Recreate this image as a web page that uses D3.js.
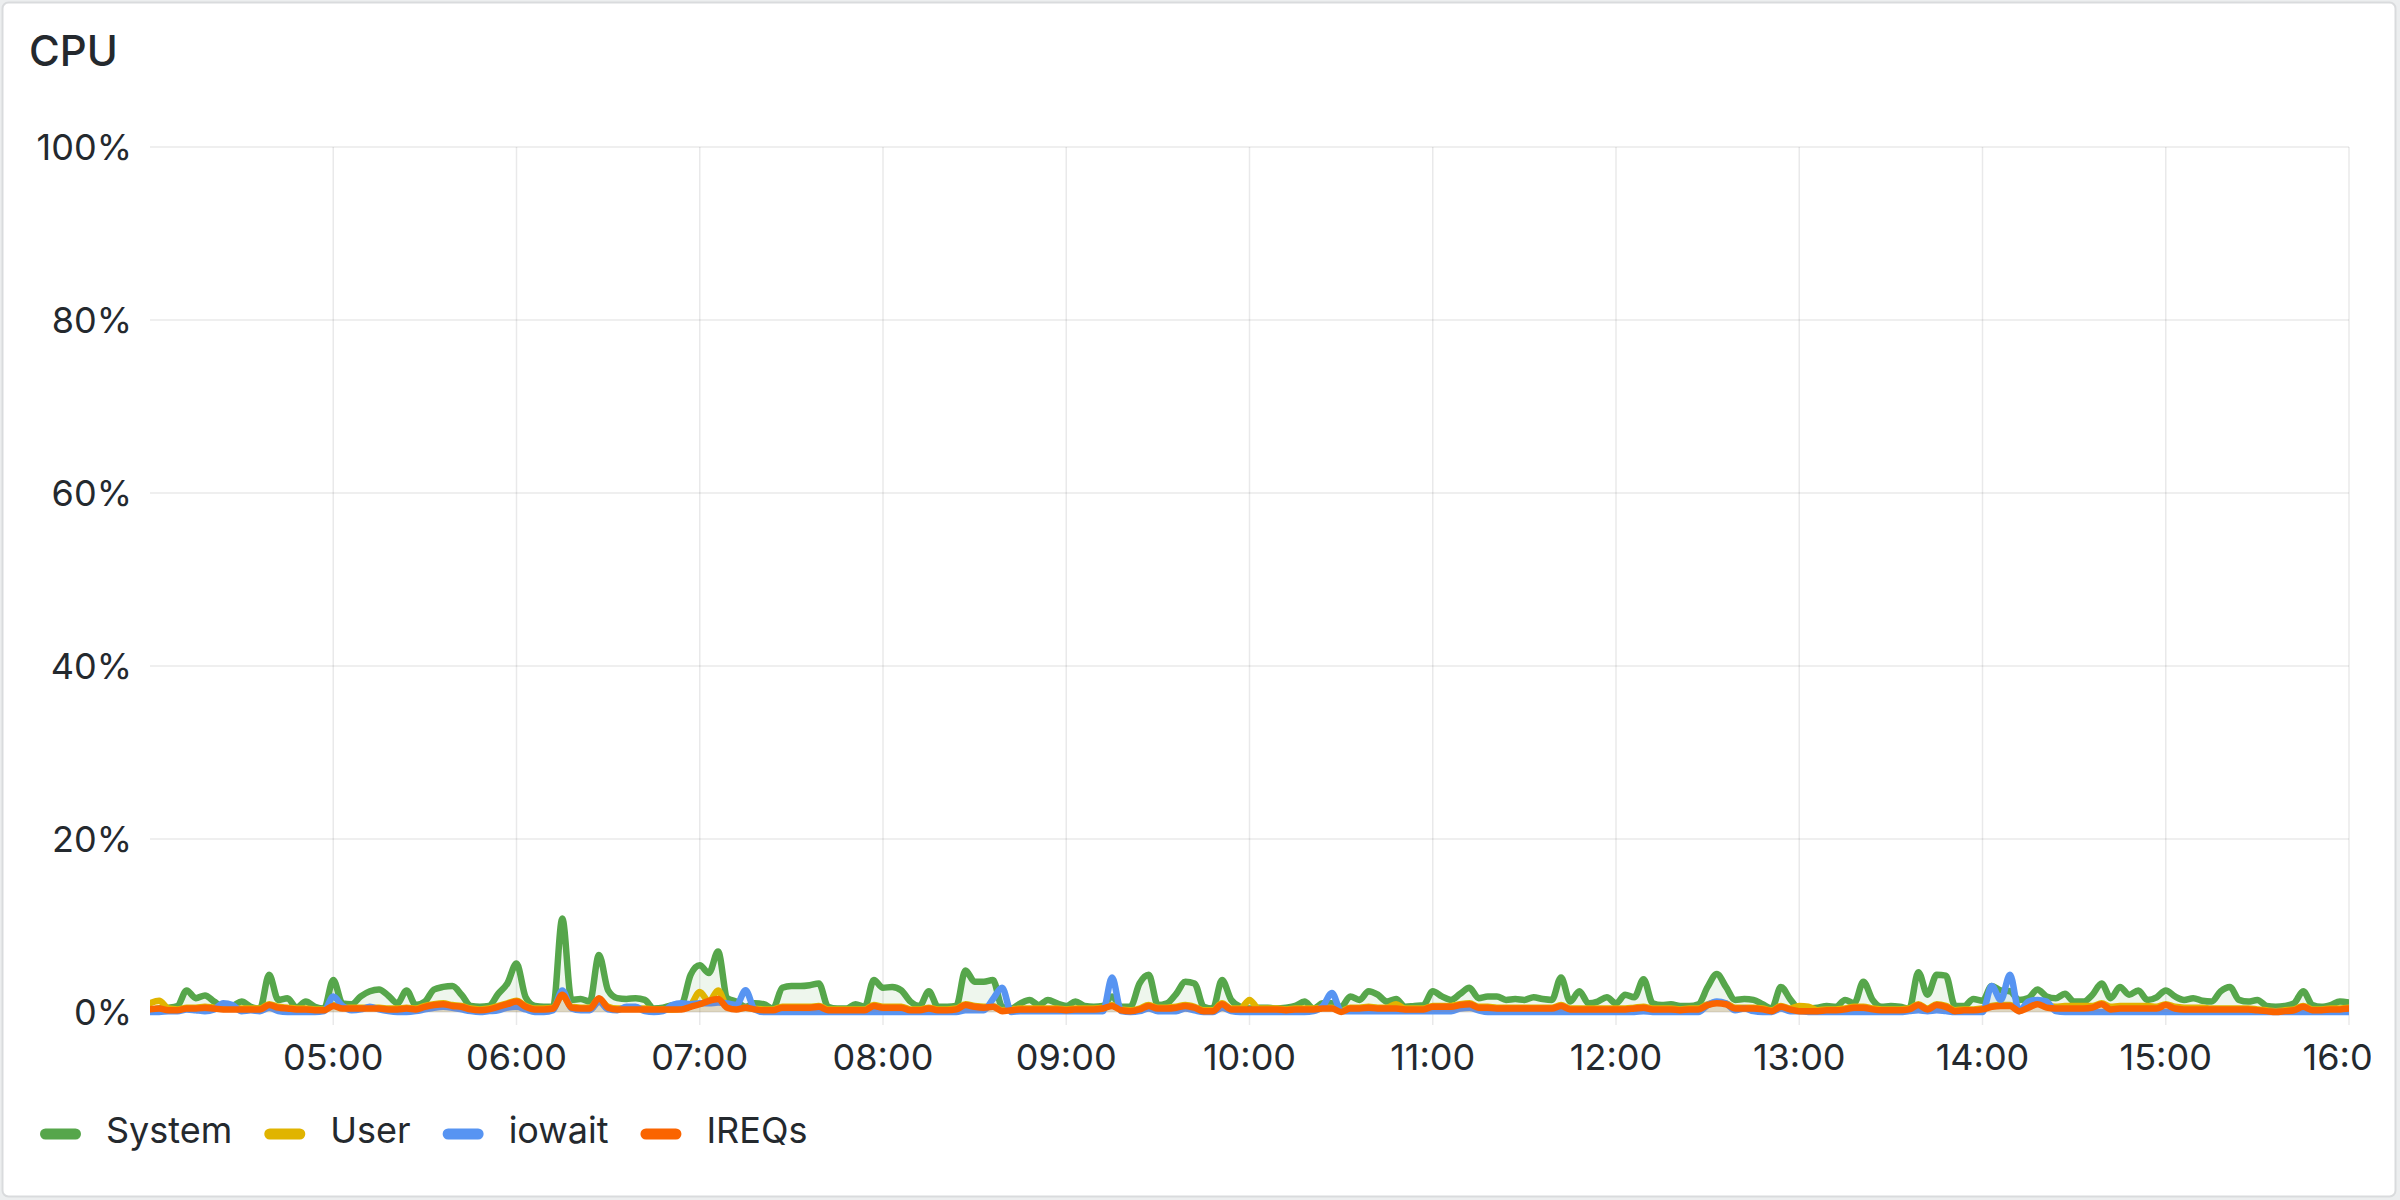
<!DOCTYPE html>
<html><head><meta charset="utf-8">
<script src="https://cdn.jsdelivr.net/npm/d3@7"></script>
<style>
html,body{margin:0;padding:0;background:#eceeef;}
svg{display:block;font-family:Inter,"Noto Sans",sans-serif;}
</style></head><body>
<svg id="chart" width="2400" height="1200"></svg>
<script>
const chartTitle = "CPU";
const startClock = "04:00";
const endClock = "16:00";
const stepMinutes = 3;
const seriesNames = ["System", "User", "iowait", "IREQs"];
const seriesColors = ["#56A64B", "#E0B400", "#5794F2", "#FA6400"];
const yTickValues = [0, 20, 40, 60, 80, 100];
const xTickLabels = ["05:00","06:00","07:00","08:00","09:00","10:00","11:00","12:00","13:00","14:00","15:00","16:00"];

const systemValues = [
0.2,0.4,0.5,0.7,2.5,1.6,1.9,1.2,0.6,0.7,
1.2,0.6,0.4,4.3,1.4,1.6,0.5,1.2,0.6,0.4,
3.7,1.0,0.9,1.8,2.4,2.6,1.9,1.0,2.5,0.8,
1.2,2.6,2.9,3.0,2.0,0.7,0.6,0.7,2.1,3.3,
5.6,1.7,0.7,0.6,0.6,10.8,1.4,1.5,1.2,6.6,
2.5,1.6,1.5,1.6,1.4,0.4,0.5,0.8,0.9,4.3,
5.4,4.5,7.0,1.6,1.2,0.6,1.0,0.9,0.4,2.8,
3.0,3.0,3.1,3.3,0.6,0.4,0.4,0.9,0.6,3.7,
2.8,2.9,2.5,1.2,0.7,2.4,0.6,0.6,0.7,4.8,
3.5,3.5,3.7,0.6,0.4,1.0,1.4,0.8,1.4,1.0,
0.7,1.2,0.7,0.6,0.7,1.8,0.6,0.6,3.3,4.3,
0.8,1.0,2.1,3.5,3.3,0.6,0.4,3.7,1.4,0.6,
0.4,0.5,0.5,0.4,0.5,0.7,1.2,0.4,1.0,1.0,
0.6,1.8,1.4,2.4,2.0,1.2,1.5,0.6,0.7,0.8,
2.4,1.8,1.4,2.1,2.8,1.6,1.8,1.8,1.4,1.5,
1.4,1.7,1.5,1.4,4.0,1.2,2.4,1.0,1.2,1.7,
1.0,2.0,1.7,3.8,1.0,0.8,0.9,0.7,0.7,0.9,
2.9,4.4,2.9,1.4,1.5,1.4,0.9,0.4,2.9,1.5,
0.4,0.4,0.5,0.7,0.6,1.4,1.0,3.5,1.4,0.6,
0.7,0.6,0.4,4.6,2.0,4.3,4.2,0.7,0.7,1.5,
1.3,3.0,2.5,2.4,1.4,1.6,2.6,1.8,1.6,2.1,
1.2,1.2,2.0,3.3,1.6,2.9,2.0,2.5,1.4,1.7,
2.5,1.8,1.4,1.6,1.3,1.2,2.4,2.9,1.4,1.2,
1.4,0.7,0.6,0.7,1.0,2.4,0.8,0.6,0.8,1.2,
1.1];

const userValues = [
1.0,1.3,0.4,0.3,0.5,0.5,0.6,0.5,0.4,0.4,
0.4,0.4,0.4,0.9,0.6,0.5,0.4,0.4,0.3,0.3,
0.8,0.5,0.5,0.5,0.5,0.5,0.4,0.4,0.5,0.4,
0.7,0.9,1.0,0.8,0.7,0.4,0.3,0.4,0.7,1.0,
1.3,0.7,0.4,0.4,0.5,2.0,0.6,0.5,0.5,1.5,
0.6,0.4,0.4,0.4,0.4,0.3,0.3,0.3,0.4,0.8,
2.3,1.2,2.5,0.6,0.4,0.5,0.4,0.3,0.3,0.6,
0.6,0.6,0.6,0.7,0.3,0.3,0.3,0.3,0.3,0.8,
0.6,0.6,0.6,0.3,0.3,0.5,0.3,0.3,0.4,0.9,
0.7,0.6,0.7,0.2,0.3,0.4,0.4,0.4,0.4,0.4,
0.3,0.4,0.4,0.4,0.5,0.8,0.3,0.2,0.4,0.8,
0.5,0.5,0.6,0.8,0.6,0.2,0.2,1.0,0.4,0.4,
1.4,0.4,0.4,0.4,0.3,0.4,0.4,0.4,0.5,0.5,
0.1,0.5,0.5,0.6,0.5,0.5,0.9,0.4,0.4,0.4,
0.7,0.7,0.7,0.9,1.0,0.6,0.6,0.5,0.5,0.5,
0.5,0.5,0.5,0.5,0.8,0.4,0.4,0.4,0.4,0.4,
0.4,0.4,0.5,0.6,0.4,0.4,0.4,0.3,0.4,0.4,
0.9,1.1,1.0,0.5,0.5,0.5,0.4,0.2,0.7,0.4,
0.7,0.6,0.2,0.3,0.3,0.4,0.6,0.6,0.4,0.3,
0.3,0.3,0.4,0.9,0.4,0.9,0.7,0.2,0.3,0.3,
0.4,0.7,0.8,0.8,0.2,0.6,1.0,0.7,0.6,0.7,
0.7,0.7,0.7,1.0,0.6,0.7,0.7,0.7,0.7,0.6,
0.9,0.6,0.5,0.5,0.5,0.4,0.4,0.4,0.4,0.4,
0.3,0.2,0.1,0.2,0.3,0.7,0.3,0.3,0.4,0.4,
0.5];

const iowaitValues = [
0.0,0.0,0.1,0.1,0.3,0.2,0.1,0.3,1.0,0.8,
0.1,0.2,0.1,0.5,0.1,0.0,0.0,0.0,0.0,0.1,
1.8,0.7,0.2,0.3,0.6,0.3,0.1,0.0,0.0,0.1,
0.3,0.5,0.6,0.5,0.3,0.1,0.0,0.1,0.2,0.5,
0.6,0.3,0.0,0.0,0.2,2.5,0.4,0.2,0.2,1.2,
0.3,0.2,0.6,0.6,0.1,0.0,0.1,0.8,1.0,0.9,
1.0,1.0,1.1,1.0,0.8,2.5,0.3,0.0,0.0,0.0,
0.0,0.0,0.0,0.0,0.0,0.0,0.0,0.0,0.0,0.0,
0.0,0.0,0.0,0.0,0.0,0.0,0.0,0.0,0.0,0.2,
0.2,0.2,1.5,2.8,0.0,0.1,0.1,0.1,0.1,0.1,
0.1,0.1,0.1,0.1,0.1,4.0,0.1,0.0,0.1,0.4,
0.1,0.1,0.1,0.4,0.2,0.0,0.0,0.5,0.1,0.0,
0.0,0.0,0.0,0.0,0.0,0.0,0.0,0.1,0.7,2.2,
0.1,0.1,0.1,0.1,0.1,0.1,0.1,0.1,0.1,0.1,
0.1,0.1,0.1,0.4,0.5,0.2,0.0,0.0,0.0,0.0,
0.0,0.0,0.0,0.0,0.0,0.0,0.0,0.0,0.0,0.0,
0.0,0.0,0.0,0.1,0.0,0.0,0.0,0.0,0.0,0.0,
0.8,1.2,1.0,0.2,0.4,0.1,0.0,0.0,0.4,0.1,
0.1,0.0,0.0,0.0,0.0,0.0,0.0,0.0,0.0,0.0,
0.0,0.0,0.1,0.2,0.1,0.2,0.1,0.0,0.0,0.0,
0.0,3.0,1.4,4.3,0.1,1.2,1.4,1.2,0.1,0.0,
0.0,0.0,0.0,0.0,0.0,0.0,0.0,0.0,0.0,0.0,
0.0,0.0,0.0,0.0,0.0,0.0,0.0,0.0,0.0,0.0,
0.0,0.0,0.0,0.0,0.0,0.0,0.0,0.0,0.0,0.0,
0.0];

const ireqsValues = [
0.3,0.4,0.2,0.2,0.4,0.4,0.5,0.4,0.3,0.3,
0.3,0.3,0.3,0.8,0.5,0.4,0.3,0.3,0.2,0.2,
0.7,0.4,0.4,0.4,0.4,0.4,0.3,0.3,0.4,0.3,
0.6,0.8,0.9,0.7,0.6,0.3,0.2,0.3,0.6,0.9,
1.2,0.6,0.3,0.3,0.4,2.0,0.5,0.4,0.4,1.6,
0.5,0.3,0.3,0.3,0.3,0.3,0.3,0.3,0.3,0.6,
0.9,1.3,1.5,0.5,0.3,0.5,0.3,0.2,0.2,0.5,
0.5,0.5,0.5,0.6,0.2,0.2,0.2,0.2,0.2,0.7,
0.5,0.5,0.5,0.2,0.2,0.4,0.2,0.2,0.3,0.8,
0.6,0.5,0.6,0.1,0.2,0.3,0.3,0.3,0.3,0.3,
0.2,0.3,0.3,0.3,0.4,0.7,0.2,0.1,0.3,0.7,
0.4,0.4,0.5,0.7,0.5,0.1,0.1,0.9,0.3,0.3,
0.3,0.3,0.3,0.3,0.2,0.3,0.3,0.3,0.4,0.4,
0.0,0.4,0.4,0.5,0.4,0.4,0.4,0.3,0.3,0.3,
0.6,0.6,0.6,0.8,0.9,0.5,0.5,0.4,0.4,0.4,
0.4,0.4,0.4,0.4,0.7,0.3,0.3,0.3,0.3,0.3,
0.3,0.3,0.4,0.5,0.3,0.3,0.3,0.2,0.3,0.3,
0.8,1.0,0.9,0.4,0.4,0.4,0.3,0.1,0.6,0.3,
0.1,0.1,0.1,0.2,0.2,0.3,0.5,0.5,0.3,0.2,
0.2,0.2,0.3,0.8,0.3,0.8,0.6,0.1,0.2,0.2,
0.3,0.6,0.7,0.7,0.1,0.5,0.9,0.5,0.4,0.4,
0.4,0.4,0.5,0.9,0.3,0.4,0.4,0.4,0.4,0.4,
0.8,0.4,0.3,0.3,0.3,0.3,0.3,0.3,0.3,0.3,
0.2,0.1,0.0,0.1,0.2,0.6,0.2,0.2,0.3,0.3,
0.4];

const seriesValues = [systemValues, userValues, iowaitValues, ireqsValues];

const svg = d3.select("#chart");
const W = 2400, H = 1200;
const plot = {left: 150, right: 2349, top: 147, bottom: 1012};
const textColor = "#24292e";

function clockToDate(s) {
  const [h, m] = s.split(":").map(Number);
  return new Date(2024, 0, 1, h, m);
}
const t0 = clockToDate(startClock);
const t1 = clockToDate(endClock);

const x = d3.scaleTime().domain([t0, t1]).range([plot.left, plot.right]);
const y = d3.scaleLinear().domain([0, 100]).range([plot.bottom, plot.top]);

// panel
svg.append("rect").attr("x", 0).attr("y", 0).attr("width", W).attr("height", H).attr("fill", "#eceeef");
svg.append("rect").attr("x", 2.5).attr("y", 2.5).attr("width", 2393).attr("height", 1194)
  .attr("rx", 6).attr("fill", "#ffffff").attr("stroke", "#d9dbdd").attr("stroke-width", 2);

svg.append("text").attr("x", 29).attr("y", 66).text(chartTitle)
  .attr("font-size", 42).attr("font-weight", 500).attr("fill", textColor);

const defs = svg.append("defs");
defs.append("clipPath").attr("id", "xlabelclip").append("rect")
  .attr("x", 0).attr("y", 0).attr("width", 2371).attr("height", H);
defs.append("clipPath").attr("id", "plotclip").append("rect")
  .attr("x", plot.left).attr("y", 0).attr("width", plot.right - plot.left).attr("height", plot.bottom + 12);

// grid
const grid = svg.append("g");
grid.selectAll(".hg").data(yTickValues).join("line")
  .attr("x1", plot.left).attr("x2", plot.right)
  .attr("y1", d => y(d)).attr("y2", d => y(d))
  .attr("stroke", "rgba(36,41,46,0.1)").attr("stroke-width", 1.5);
const xTickDates = xTickLabels.map(clockToDate);
grid.selectAll(".vg").data(xTickDates).join("line")
  .attr("x1", d => x(d)).attr("x2", d => x(d))
  .attr("y1", plot.top).attr("y2", plot.bottom + 13)
  .attr("stroke", "rgba(36,41,46,0.1)").attr("stroke-width", 1.5);

// y labels
svg.append("g").selectAll("text").data(yTickValues).join("text")
  .attr("x", 132).attr("y", d => y(d) + 12.5)
  .attr("text-anchor", "end").attr("font-size", 36).attr("fill", textColor)
  .text(d => d + "%");

// x labels
svg.append("g").attr("clip-path", "url(#xlabelclip)")
  .selectAll("text").data(xTickLabels).join("text")
  .attr("x", (d, i) => x(xTickDates[i])).attr("y", 1070)
  .attr("text-anchor", "middle").attr("font-size", 36).attr("fill", textColor)
  .text(d => d);

// series
const times = systemValues.map((_, i) => new Date(+t0 + i * stepMinutes * 60000));
const lineGen = d3.line().x((d, i) => x(times[i])).y(d => y(d)).curve(d3.curveMonotoneX);
const areaGen = d3.area().x((d, i) => x(times[i])).y0(y(0)).y1(d => y(d)).curve(d3.curveMonotoneX);
const gSeries = svg.append("g").attr("clip-path", "url(#plotclip)");
seriesValues.forEach((vals, k) => {
  gSeries.append("path").datum(vals).attr("d", areaGen)
    .attr("fill", seriesColors[k]).attr("fill-opacity", 0.1);
  gSeries.append("path").datum(vals).attr("d", lineGen)
    .attr("fill", "none").attr("stroke", seriesColors[k]).attr("stroke-width", 6.5)
    .attr("stroke-linejoin", "round").attr("stroke-linecap", "round");
});

// legend
const legend = svg.append("g");
let lx = 40;
seriesNames.forEach((name, k) => {
  legend.append("rect").attr("x", lx).attr("y", 1128.5).attr("width", 41).attr("height", 11)
    .attr("rx", 5.5).attr("fill", seriesColors[k]);
  const t = legend.append("text").attr("x", lx + 66).attr("y", 1142.5)
    .attr("font-size", 36).attr("fill", textColor).text(name);
  const w = t.node().getComputedTextLength();
  lx = lx + 66 + w + 32;
});
</script>
</body></html>
